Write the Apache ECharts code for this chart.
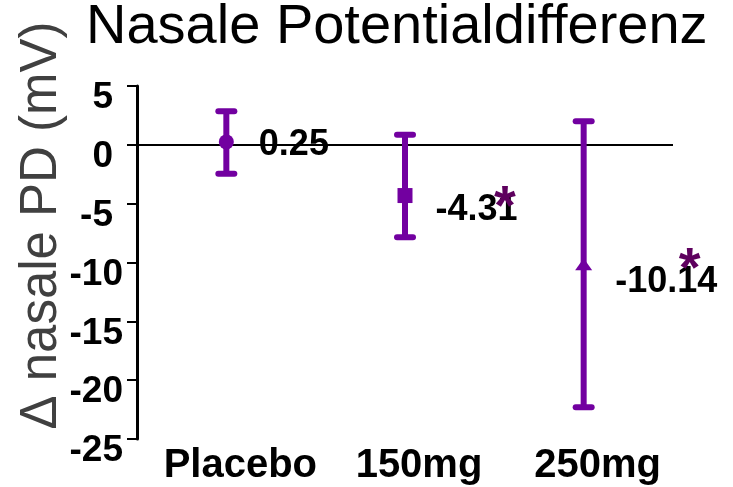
<!DOCTYPE html>
<html>
<head>
<meta charset="utf-8">
<script src="https://cdn.jsdelivr.net/npm/echarts@6/dist/echarts.min.js"></script>
<style>html,body{margin:0;padding:0;background:#fff}#c{width:733px;height:487px}</style>
</head>
<body>
<div id="c"></div>
<script>
const categories = ['Placebo', '150mg', '250mg'];
const means = [0.25, -4.31, -10.14];
const upper = [2.85, 0.85, 2.0];
const lower = [-2.45, -7.85, -22.3];
const significant = [false, true, true];
const valueLabels = ['0.25', '-4.31', '-10.14'];
const yMin = -25, yMax = 5, yStep = 5;

const purple = '#7200A0';
const symbols = ['circle', 'rect', 'triangle'];
const symbolSizes = [15, 15, [17, 12]];
const labelOffsets = [[20, 3], [18, 15], [18, 18]];
const starOffsets = [[0, 0], [100, 13], [106, 6]];

const chart = echarts.init(document.getElementById('c'));
const font = 'Liberation Sans, Arial, sans-serif';

chart.setOption({
  animation: false,
  title: {
    text: 'Nasale Potentialdifferenz',
    left: 86, top: 0, padding: 0,
    textStyle: {fontFamily: font, fontSize: 56, fontWeight: 'normal', color: '#000'}
  },
  grid: {left: 137, right: 60, top: 86, bottom: 48, containLabel: false, outerBoundsMode: 'none'},
  xAxis: {
    type: 'category',
    data: categories,
    axisLine: {show: false, onZero: false},
    axisTick: {show: false},
    axisLabel: {
      interval: 0, hideOverlap: false,
      margin: 7, color: '#000', fontFamily: font, fontSize: 40, fontWeight: 'bold',
      padding: [0, 0, 0, 28], verticalAlign: 'top'
    },
    splitLine: {show: false}
  },
  yAxis: {
    type: 'value',
    min: yMin, max: yMax, interval: yStep,
    name: 'Δ nasale PD (mV)',
    nameLocation: 'middle',
    nameRotate: 90,
    nameGap: 70,
    nameMoveOverlap: false,
    nameTextStyle: {fontFamily: font, fontSize: 51, color: '#404040', padding: [0, 0, 0, 74]},
    axisLine: {show: true, lineStyle: {color: '#000', width: 3}},
    axisTick: {show: true, length: 10, lineStyle: {color: '#000', width: 2}},
    splitLine: {show: false},
    axisLabel: {
      margin: 14,
      formatter: v => (Math.abs(v) < 10 ? '{s|' + v + '}' : '{l|' + v + '}'),
      rich: {
        s: {fontFamily: font, fontSize: 37, fontWeight: 'bold', color: '#000', padding: [24, 10, 0, 0]},
        l: {fontFamily: font, fontSize: 37, fontWeight: 'bold', color: '#000', padding: [24, 0, 0, 0]}
      }
    }
  },
  series: [
    {
      type: 'custom',
      silent: true,
      data: categories.map((c, i) => [i, upper[i], lower[i]]),
      renderItem: (params, api) => {
        const top = api.coord([api.value(0), api.value(1)]);
        const bot = api.coord([api.value(0), api.value(2)]);
        const hw = 8;
        const st = {stroke: purple, lineWidth: 6, lineCap: 'round'};
        return {
          type: 'group',
          children: [
            {type: 'line', shape: {x1: top[0], y1: top[1], x2: bot[0], y2: bot[1]}, style: {stroke: purple, lineWidth: 6}},
            {type: 'line', shape: {x1: top[0] - hw, y1: top[1], x2: top[0] + hw, y2: top[1]}, style: st},
            {type: 'line', shape: {x1: bot[0] - hw, y1: bot[1], x2: bot[0] + hw, y2: bot[1]}, style: st}
          ]
        };
      },
      z: 2
    },
    {
      type: 'scatter',
      z: 3,
      data: means.map((m, i) => ({
        value: [i, m],
        symbol: symbols[i],
        symbolSize: symbolSizes[i],
        label: {
          show: true, position: 'right', offset: labelOffsets[i],
          formatter: valueLabels[i],
          fontFamily: font, fontSize: 36, fontWeight: 'bold', color: '#000'
        }
      })),
      itemStyle: {color: purple, opacity: 1},
      markLine: {
        silent: true,
        symbol: 'none',
        label: {show: false},
        lineStyle: {color: '#000', width: 2, type: 'solid'},
        data: [{yAxis: 0}],
        z: 1
      }
    },
    {
      type: 'scatter',
      z: 4,
      symbolSize: 0,
      itemStyle: {opacity: 1},
      data: means.map((m, i) => ({value: [i, m], i: i})).filter((d, i) => significant[i]).map(d => ({
        value: d.value,
        label: {
          show: true, position: 'inside', offset: starOffsets[d.i],
          formatter: '*', fontFamily: font, fontSize: 56, fontWeight: 'bold', color: '#5E005E', opacity: 1
        }
      }))
    }
  ]
});
</script>
</body>
</html>
